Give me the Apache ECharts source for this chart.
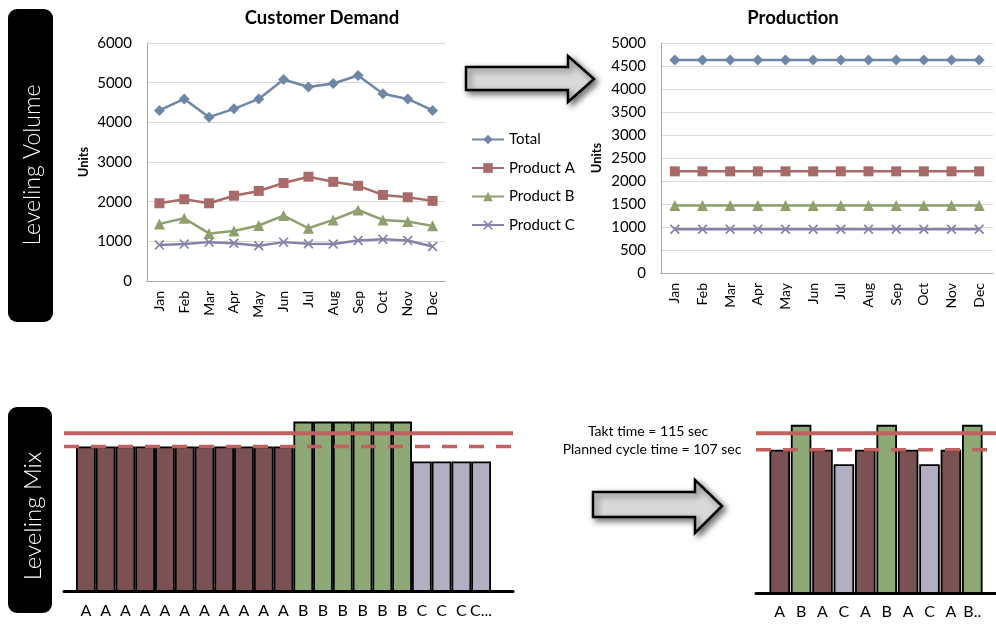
<!DOCTYPE html>
<html>
<head>
<meta charset="utf-8">
<script src="https://cdn.jsdelivr.net/npm/echarts@6/dist/echarts.min.js"></script>
<style>
html, body { margin: 0; padding: 0; background: #fff; }
#main { width: 996px; height: 624px; }
</style>
</head>
<body>
<div id="main"></div>
<script>
// 月份
const months = ['Jan', 'Feb', 'Mar', 'Apr', 'May', 'Jun', 'Jul', 'Aug', 'Sep', 'Oct', 'Nov', 'Dec'];

// Customer Demand
const demandTotal = [4300, 4590, 4130, 4340, 4590, 5080, 4890, 4980, 5180, 4720, 4590, 4300];
const demandA = [1960, 2060, 1960, 2150, 2270, 2470, 2630, 2500, 2400, 2170, 2110, 2020];
const demandB = [1440, 1580, 1200, 1260, 1400, 1650, 1330, 1540, 1790, 1540, 1500, 1390];
const demandC = [910, 930, 980, 950, 890, 980, 940, 930, 1020, 1050, 1020, 870];

// Production (leveled)
const prodTotal = [4630, 4630, 4630, 4630, 4630, 4630, 4630, 4630, 4630, 4630, 4630, 4630];
const prodA = [2210, 2210, 2210, 2210, 2210, 2210, 2210, 2210, 2210, 2210, 2210, 2210];
const prodB = [1470, 1470, 1470, 1470, 1470, 1470, 1470, 1470, 1470, 1470, 1470, 1470];
const prodC = [950, 950, 950, 950, 950, 950, 950, 950, 950, 950, 950, 950];

// Leveling Mix (cycle time, sec)
const mixLabels = ['A', 'A', 'A', 'A', 'A', 'A', 'A', 'A', 'A', 'A', 'A',
    'B', 'B', 'B', 'B', 'B', 'B', 'C', 'C', 'C', 'C...'];
const mixTimes = [107, 107, 107, 107, 107, 107, 107, 107, 107, 107, 107,
    122, 122, 122, 122, 122, 122, 98, 98, 98, 98];
const levelLabels = ['A', 'B', 'A', 'C', 'A', 'B', 'A', 'C', 'A', 'B..'];
const levelTimes = [107, 119, 107, 100, 107, 119, 107, 100, 107, 119];
const taktTime = 115;
const plannedCycle = 107;

const FONT = 'Lato, "Open Sans", sans-serif';
const lineColors = ['#6f87a6', '#a86b69', '#8f9f6e', '#8583a8'];
const productColors = { A: '#7a5253', B: '#8ea876', C: '#b3aec2' };
const xMark = 'path://M0,1.2L1.2,0L5,3.8L8.8,0L10,1.2L6.2,5L10,8.8L8.8,10L5,6.2L1.2,10L0,8.8L3.8,5Z';
const symbols = ['diamond', 'rect', 'triangle', xMark];
const symbolSizes = [11, 10, 11, 10];
const seriesNames = ['Total', 'Product A', 'Product B', 'Product C'];

const chart = echarts.init(document.getElementById('main'));

const monthAxis = (gridIndex) => ({
    type: 'category', gridIndex, data: months, boundaryGap: true,
    axisTick: { show: false },
    axisLine: { lineStyle: { color: '#a6a6a6', width: 1 } },
    axisLabel: { rotate: 90, fontSize: 14, color: '#000', fontFamily: FONT, margin: 10 }
});
const unitsAxis = (gridIndex, max, interval, gap) => ({
    type: 'value', gridIndex, min: 0, max, interval,
    name: 'Units', nameLocation: 'middle', nameRotate: 90, nameGap: gap,
    nameTextStyle: { fontWeight: 'bold', fontSize: 13, color: '#000', fontFamily: FONT },
    axisLine: { show: true, lineStyle: { color: '#a6a6a6', width: 1 } },
    axisTick: { show: false },
    axisLabel: { fontSize: 15, color: '#000', fontFamily: FONT, margin: 15, formatter: (v) => String(v) },
    splitLine: { lineStyle: { color: '#d9d9d9', width: 1 } }
});
const lineSeries = (idx, data) => ({
    name: seriesNames[idx % 4], type: 'line', xAxisIndex: idx < 4 ? 0 : 1, yAxisIndex: idx < 4 ? 0 : 1,
    data, symbol: symbols[idx % 4], symbolSize: symbolSizes[idx % 4],
    lineStyle: { color: lineColors[idx % 4], width: 2.5 },
    itemStyle: { color: lineColors[idx % 4] },
    emphasis: { disabled: true }
});
const barItems = (labels, values) => values.map((v, i) => ({
    value: v,
    itemStyle: { color: productColors[labels[i][0]] }
}));
const refLine = (axisIndex, value, dashed) => ({
    type: 'line', xAxisIndex: axisIndex, yAxisIndex: axisIndex, z: 5,
    data: [[0, value], [1, value]], symbol: 'none', silent: true,
    lineStyle: dashed ? { color: '#c0605f', width: 3.5, type: [15, 12] } : { color: '#c0605f', width: 4 }
});
const hiddenValueAxis = (gridIndex, min, max) => ({
    type: 'value', gridIndex, min, max, show: false
});
const baseAxis = (gridIndex) => ({
    type: 'value', gridIndex, min: 0, max: 1, show: true,
    axisLine: { show: true, onZero: false, lineStyle: { color: '#000', width: 3 } },
    axisTick: { show: false }, axisLabel: { show: false }, splitLine: { show: false }
});
const arrow = (pts) => ({
    type: 'polygon', z: 10,
    shape: { points: pts },
    style: {
        fill: '#d9d9d9', stroke: '#000', lineWidth: 2.5,
        shadowBlur: 6, shadowOffsetX: 3, shadowOffsetY: 3, shadowColor: 'rgba(0,0,0,0.55)'
    }
});
const noteText = (x, y, text) => ({
    type: 'text', x, y,
    style: { text, fill: '#000', font: '14px ' + FONT, align: 'center', verticalAlign: 'middle' }
});

const option = {
    animation: false,
    backgroundColor: '#fff',
    title: [
        { text: 'Customer Demand', left: 317, top: 4, textAlign: 'center',
          textStyle: { fontSize: 18.5, fontWeight: 'bold', color: '#000', fontFamily: FONT } },
        { text: 'Production', left: 788, top: 4, textAlign: 'center',
          textStyle: { fontSize: 18.5, fontWeight: 'bold', color: '#000', fontFamily: FONT } }
    ],
    legend: {
        data: seriesNames, orient: 'vertical', left: 466, top: 127,
        itemWidth: 32, itemHeight: 12, itemGap: 13.5,
        textStyle: { fontSize: 15, color: '#000', fontFamily: FONT }
    },
    grid: [
        { left: 147, top: 43, width: 298, height: 238 },
        { left: 661, top: 43, width: 332, height: 230 },
        { left: 76, top: 400, width: 415, height: 191 },
        { left: 64, top: 400, width: 449, height: 191 },
        { left: 769, top: 402, width: 214, height: 191 },
        { left: 756, top: 402, width: 240, height: 191 }
    ],
    xAxis: [
        monthAxis(0),
        monthAxis(1),
        { type: 'category', gridIndex: 2, data: mixLabels, axisLine: { show: false }, axisTick: { show: false },
          axisLabel: { fontSize: 16, color: '#000', fontFamily: FONT, margin: 12, interval: 0 } },
        baseAxis(3),
        { type: 'category', gridIndex: 4, data: levelLabels, axisLine: { show: false }, axisTick: { show: false },
          axisLabel: { fontSize: 16, color: '#000', fontFamily: FONT, margin: 11, interval: 0 } },
        baseAxis(5)
    ],
    yAxis: [
        unitsAxis(0, 6000, 1000, 57),
        unitsAxis(1, 5000, 500, 58),
        hiddenValueAxis(2, 20, 135),
        hiddenValueAxis(3, 20, 135),
        hiddenValueAxis(4, 38, 130),
        hiddenValueAxis(5, 38, 130)
    ],
    series: [
        lineSeries(0, demandTotal),
        lineSeries(1, demandA),
        lineSeries(2, demandB),
        lineSeries(3, demandC),
        lineSeries(4, prodTotal),
        lineSeries(5, prodA),
        lineSeries(6, prodB),
        lineSeries(7, prodC),
        { type: 'bar', xAxisIndex: 2, yAxisIndex: 2, clip: true, barCategoryGap: '0%',
          data: barItems(mixLabels, mixTimes), silent: true,
          itemStyle: { borderColor: '#000', borderWidth: 1.8 } },
        { type: 'bar', xAxisIndex: 4, yAxisIndex: 4, clip: true, barCategoryGap: '4%',
          data: barItems(levelLabels, levelTimes), silent: true,
          itemStyle: { borderColor: '#000', borderWidth: 1.8 } },
        refLine(3, taktTime, false),
        refLine(3, plannedCycle, true),
        refLine(5, taktTime, false),
        refLine(5, plannedCycle, true)
    ],
    graphic: [
        { type: 'rect', shape: { x: 8, y: 9, width: 45, height: 313, r: 9 }, style: { fill: '#000' } },
        { type: 'text', x: 33, y: 165, rotation: Math.PI / 2,
          style: { text: 'Leveling Volume', fill: '#fff', font: '300 23px ' + FONT, align: 'center', verticalAlign: 'middle' } },
        { type: 'rect', shape: { x: 8, y: 407, width: 44, height: 206, r: 9 }, style: { fill: '#000' } },
        { type: 'text', x: 33, y: 516, rotation: Math.PI / 2,
          style: { text: 'Leveling Mix', fill: '#fff', font: '300 24px ' + FONT, align: 'center', verticalAlign: 'middle' } },
        arrow([[466, 67], [568, 67], [568, 56], [594, 79], [568, 102], [568, 90], [466, 90]]),
        arrow([[593, 492], [695, 492], [695, 480], [722, 506], [695, 533], [695, 517], [593, 517]]),
        noteText(648, 431, 'Takt time = ' + taktTime + ' sec'),
        noteText(652, 449, 'Planned cycle time = ' + plannedCycle + ' sec')
    ]
};

chart.setOption(option);
</script>
</body>
</html>
